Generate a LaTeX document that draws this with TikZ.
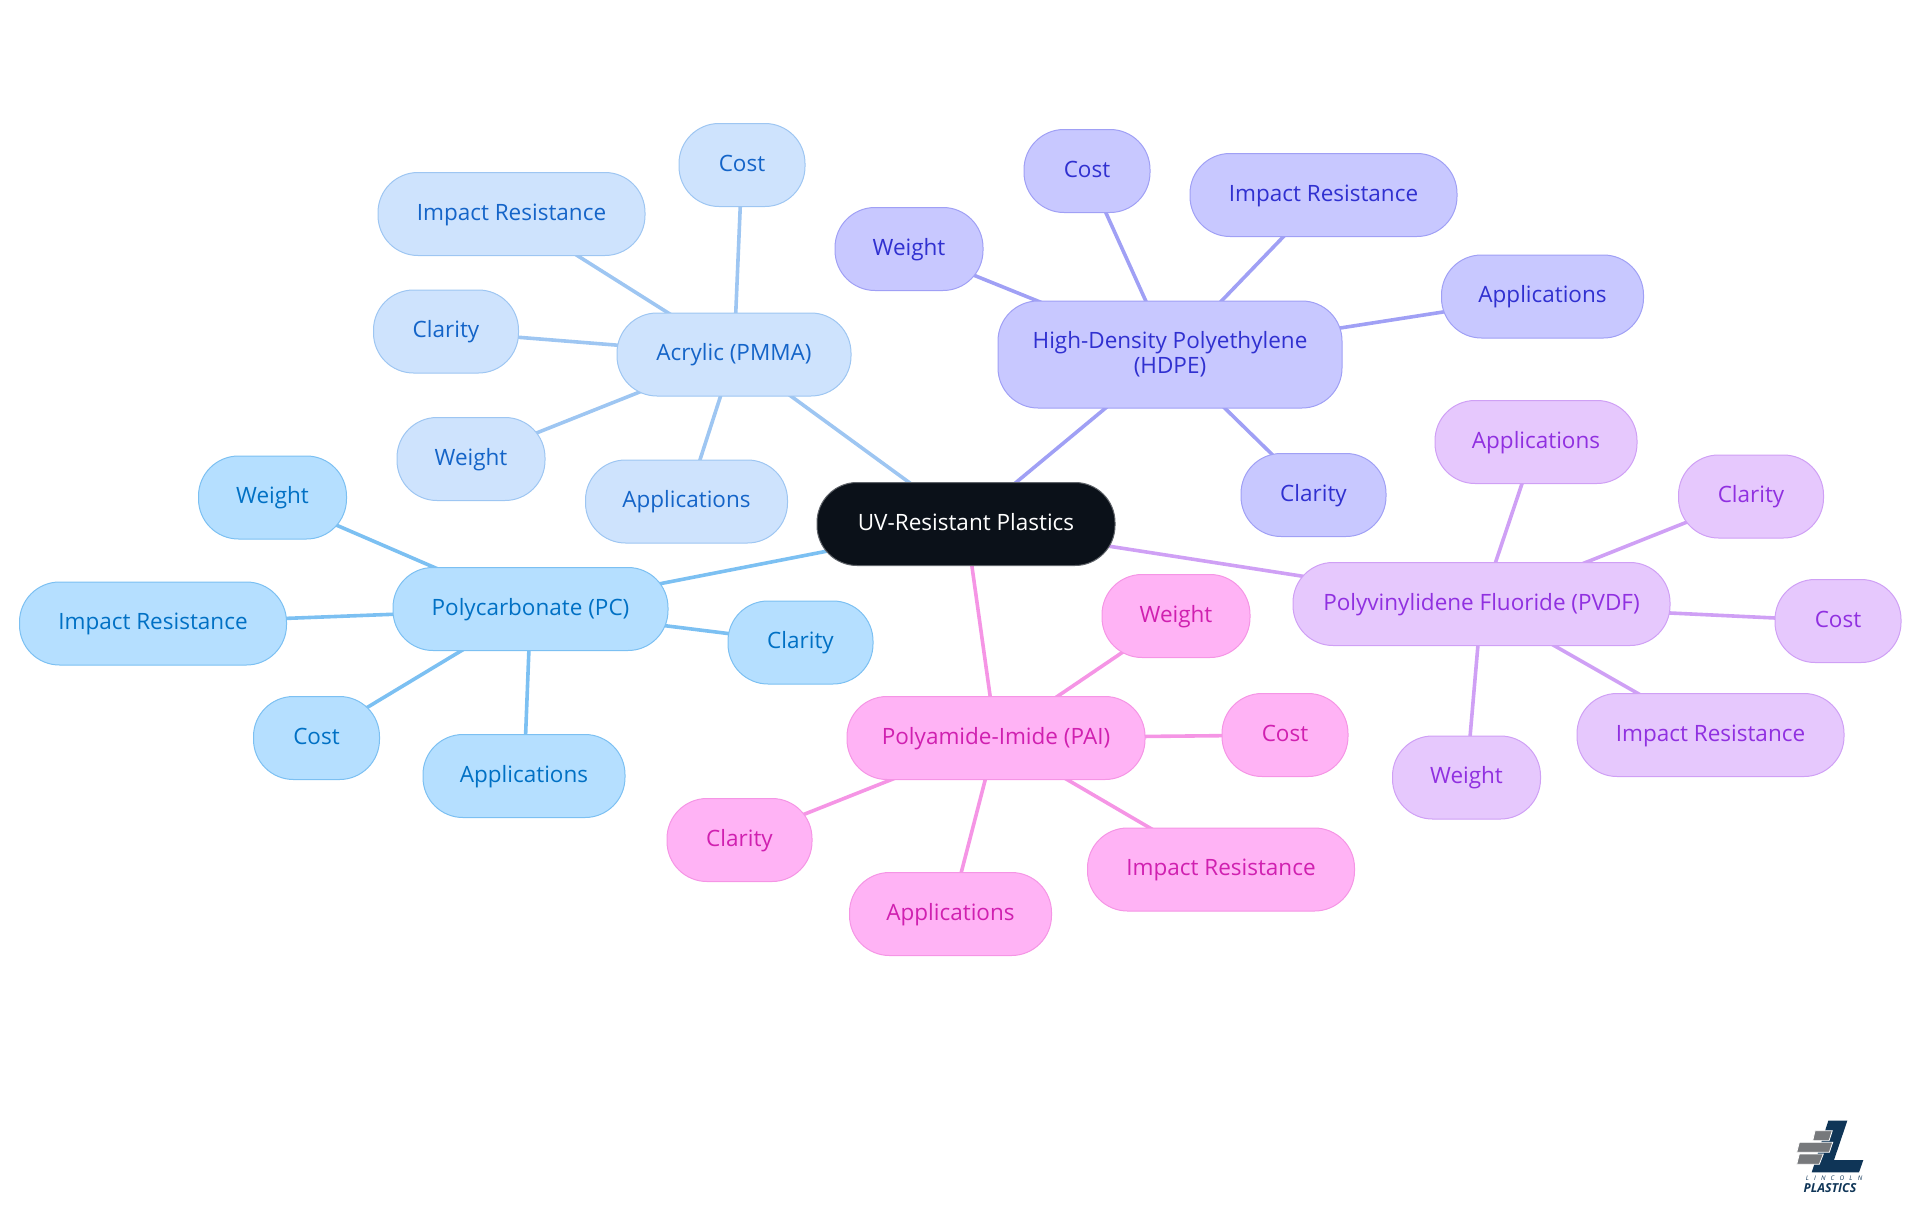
\documentclass[tikz,border=0pt]{standalone}
\usepackage{fontspec}
\setmainfont{Open Sans}
\usetikzlibrary{backgrounds}
\definecolor{rootfill}{HTML}{0B1119}
\definecolor{rootline}{HTML}{60646A}
\definecolor{pcfill}{HTML}{B5DFFF}\definecolor{pcline}{HTML}{7CC0F2}\definecolor{pctext}{HTML}{0070C4}
\definecolor{acfill}{HTML}{CEE3FD}\definecolor{acline}{HTML}{9EC6F2}\definecolor{actext}{HTML}{1464C8}
\definecolor{hdfill}{HTML}{C8C8FF}\definecolor{hdline}{HTML}{A0A0F5}\definecolor{hdtext}{HTML}{3030D0}
\definecolor{pvfill}{HTML}{E6C8FD}\definecolor{pvline}{HTML}{CFA0F5}\definecolor{pvtext}{HTML}{9030E0}
\definecolor{pafill}{HTML}{FFB3F5}\definecolor{paline}{HTML}{F595E5}\definecolor{patext}{HTML}{D020B0}
\definecolor{logoblue}{HTML}{0F3557}
\definecolor{logogrey}{HTML}{77797C}
\tikzset{
  x=0.5pt,y=-0.5pt,
  pill/.style={draw,line width=0.5pt,rounded corners=20pt,minimum height=41.5pt,inner sep=0pt,align=center,text height=8.5pt,text depth=2.5pt,font=\fontsize{11.25}{12.2}\selectfont},
  pcn/.style={pill,fill=pcfill,draw=pcline,text=pctext},
  acn/.style={pill,fill=acfill,draw=acline,text=actext},
  hdn/.style={pill,fill=hdfill,draw=hdline,text=hdtext},
  pvn/.style={pill,fill=pvfill,draw=pvline,text=pvtext},
  pan/.style={pill,fill=pafill,draw=paline,text=patext},
  wt/.style={minimum width=74pt},
  co/.style={minimum width=63pt},
  im/.style={minimum width=133.5pt},
  ap/.style={minimum width=101pt},
  cl/.style={minimum width=72.5pt},
  pclink/.style={line width=1.8pt,draw=pcline},
  aclink/.style={line width=1.8pt,draw=acline},
  hdlink/.style={line width=1.8pt,draw=hdline},
  pvlink/.style={line width=1.8pt,draw=pvline},
  palink/.style={line width=1.8pt,draw=paline},
}
\begin{document}
\begin{tikzpicture}
\useasboundingbox (0,0) rectangle (1920,1215);
\node[pill,fill=rootfill,draw=rootline,text=white,minimum width=149pt,minimum height=41.5pt] (root) at (966,524) {UV-Resistant Plastics};
% Polycarbonate
\node[pcn,minimum width=137.5pt] (pc) at (530.5,609) {Polycarbonate (PC)};
\node[pcn,wt] (pcw) at (272.5,497.5) {Weight};
\node[pcn,im] (pci) at (153,623.5) {Impact Resistance};
\node[pcn,co] (pcc) at (316.5,738) {Cost};
\node[pcn,ap] (pca) at (524,776) {Applications};
\node[pcn,cl] (pcl) at (800.5,642.5) {Clarity};
% Acrylic
\node[acn,minimum width=117pt] (ac) at (734,354.5) {Acrylic (PMMA)};
\node[acn,co] (acc) at (742,165) {Cost};
\node[acn,im] (aci) at (511.5,214) {Impact Resistance};
\node[acn,cl] (acl) at (446,331.5) {Clarity};
\node[acn,wt] (acw) at (471,459) {Weight};
\node[acn,ap] (aca) at (686.5,501.5) {Applications};
% HDPE
\node[hdn,minimum width=172pt,minimum height=53.5pt,text height=21pt,text depth=2.5pt] (hd) at (1170,354.5) {High-Density Polyethylene\\(HDPE)};
\node[hdn,wt] (hdw) at (909,249) {Weight};
\node[hdn,co] (hdc) at (1087,171) {Cost};
\node[hdn,im] (hdi) at (1323.5,195) {Impact Resistance};
\node[hdn,ap] (hda) at (1542.5,296.5) {Applications};
\node[hdn,cl] (hdl) at (1313.5,495) {Clarity};
% PVDF
\node[pvn,minimum width=188.5pt] (pv) at (1481.5,604) {Polyvinylidene Fluoride (PVDF)};
\node[pvn,ap] (pva) at (1536,442) {Applications};
\node[pvn,cl] (pvl) at (1751,496.5) {Clarity};
\node[pvn,co] (pvc) at (1838,621) {Cost};
\node[pvn,im] (pvi) at (1710.5,735) {Impact Resistance};
\node[pvn,wt] (pvw) at (1466.5,777.5) {Weight};
% PAI
\node[pan,minimum width=149pt] (pa) at (996,738) {Polyamide-Imide (PAI)};
\node[pan,wt] (paw) at (1176,616) {Weight};
\node[pan,co] (pac) at (1285,735) {Cost};
\node[pan,im] (pai) at (1221,869.5) {Impact Resistance};
\node[pan,ap] (paa) at (950.5,914) {Applications};
\node[pan,cl] (pal) at (739.5,840) {Clarity};
\begin{pgfonlayer}{background}
\draw[pclink] (root.center) -- (pc.center);
\foreach \k in {pcw,pci,pcc,pca,pcl} \draw[pclink] (pc.center) -- (\k.center);
\draw[aclink] (root.center) -- (ac.center);
\foreach \k in {acc,aci,acl,acw,aca} \draw[aclink] (ac.center) -- (\k.center);
\draw[hdlink] (root.center) -- (hd.center);
\foreach \k in {hdw,hdc,hdi,hda,hdl} \draw[hdlink] (hd.center) -- (\k.center);
\draw[pvlink] (root.center) -- (pv.center);
\foreach \k in {pva,pvl,pvc,pvi,pvw} \draw[pvlink] (pv.center) -- (\k.center);
\draw[palink] (root.center) -- (pa.center);
\foreach \k in {paw,pac,pai,paa,pal} \draw[palink] (pa.center) -- (\k.center);
\end{pgfonlayer}
% logo
\fill[logoblue] (1828.3,1120.7) -- (1847.3,1120.7) -- (1834,1160) -- (1863.3,1160) -- (1859,1172.3) -- (1811.7,1172.3) -- cycle;
\filldraw[logogrey,draw=white,line width=0.4pt] (1815,1130.7) -- (1832.3,1130.7) -- (1829,1140.7) -- (1812.7,1140.7) -- cycle;
\filldraw[logogrey,draw=white,line width=0.4pt] (1799.3,1142.3) -- (1832.7,1142.3) -- (1829.3,1152.3) -- (1796.7,1152.3) -- cycle;
\filldraw[logogrey,draw=white,line width=0.4pt] (1799.3,1154) -- (1823.3,1154) -- (1819.3,1164.3) -- (1796.7,1164.3) -- cycle;
\node[inner sep=0pt,text=logoblue,font=\fontsize{3.2}{3.2}\selectfont\itshape] (logo1) at (1834,1178.5) {L\hspace{2.6pt}I\hspace{2.6pt}N\hspace{2.6pt}C\hspace{2.6pt}O\hspace{2.6pt}L\hspace{2.6pt}N};
\node[inner sep=0pt,text=logoblue,font=\fontsize{6.2}{6.2}\selectfont\bfseries\itshape] (logo2) at (1830,1188.5) {PLASTICS};
\end{tikzpicture}
\end{document}
